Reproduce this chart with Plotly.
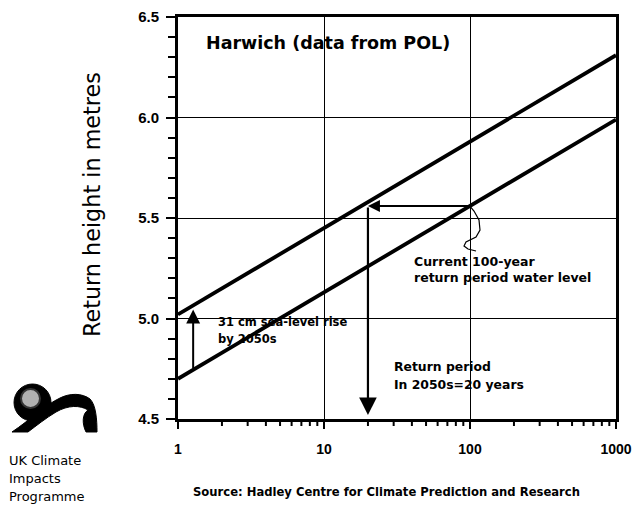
import numpy as np
import plotly.graph_objects as go

# ---------------- data ----------------
return_period = [1, 1000]                 # years (log axis)
current_level = [4.70, 5.99]              # present-day return height (m)
level_2050s = [5.02, 6.31]                # 2050s return height (m), +31 cm
y_ticks = [4.5, 5.0, 5.5, 6.0, 6.5]
y_ticklabels = ["4.5", "5.0", "5.5", "6.0", "6.5"]
x_ticks = [1, 10, 100, 1000]
x_ticklabels = ["1", "10", "100", "1000"]
x_minor_ticks = [2, 3, 4, 5, 6, 7, 8, 9, 20, 30, 40, 50, 60, 70, 80, 90,
                 200, 300, 400, 500, 600, 700, 800, 900]
current_100yr_period = 100
return_period_2050s = 20
sea_rise_x = 1.27

# page has an 8px body margin; target coordinates are page pixels
OFF = 8
W, H = 641 - OFF, 506 - OFF
PL, PR, PT, PB = 178, 616, 17, 419          # plot box in page pixels
L, T = PL - OFF, PT - OFF
PW, PH = PR - PL, PB - PT
R = W - L - PW
B = H - T - PH
Y0, Y1 = 4.5, 6.5
XR = [0, 3]                                 # log10 range of x axis


def px(x):
    return (x - PL) / PW


def py(y):
    return (PB - y) / PH


def xpaper(v):
    """data value on the log x axis -> paper fraction"""
    return (np.log10(v) - XR[0]) / (XR[1] - XR[0])


ARIAL = "Liberation Sans, Arial, sans-serif"
DEJA = "DejaVu Sans, sans-serif"

fig = go.Figure()
for ys in (current_level, level_2050s):
    fig.add_trace(go.Scatter(x=return_period, y=ys, mode="lines",
                             line=dict(color="black", width=3.8),
                             showlegend=False, hoverinfo="skip"))

lx = np.log10(return_period)
level100 = float(np.interp(np.log10(current_100yr_period), lx, current_level))
low_at_rise = float(np.interp(np.log10(sea_rise_x), lx, current_level))
up_at_rise = float(np.interp(np.log10(sea_rise_x), lx, level_2050s))

ann = []
ann.append(dict(x=np.log10(return_period_2050s), y=level100, ax=np.log10(current_100yr_period), ay=level100,
                xref="x", yref="y", axref="x", ayref="y", text="", showarrow=True,
                arrowhead=2, arrowsize=1.2, arrowwidth=2, arrowcolor="black"))
ann.append(dict(x=np.log10(return_period_2050s), y=4.52, ax=np.log10(return_period_2050s), ay=level100,
                xref="x", yref="y", axref="x", ayref="y", text="", showarrow=True,
                arrowhead=2, arrowsize=1.6, arrowwidth=2.2, arrowcolor="black"))
ann.append(dict(x=np.log10(sea_rise_x), y=up_at_rise - 0.02, ax=np.log10(sea_rise_x), ay=low_at_rise,
                xref="x", yref="y", axref="x", ayref="y", text="", showarrow=True,
                arrowhead=2, arrowsize=1.4, arrowwidth=2, arrowcolor="black"))


def label(text, x, y, size, family=DEJA, bold=True, anchor="left", angle=0):
    ann.append(dict(x=px(x), y=py(y), xref="paper", yref="paper", xanchor=anchor, yanchor="middle",
                    text=text, showarrow=False, textangle=angle,
                    font=dict(family=family, size=size, color="black",
                              weight="bold" if bold else "normal")))


label("Harwich (data from POL)", 204, 43, 17.5)
label("31 cm sea-level rise", 216, 322, 11.5)
label("by 2050s", 216, 339, 11.5)
label("Current 100-year", 412, 261, 12.5)
label("return period water level", 412, 277, 12.5)
label("Return period", 392, 366, 12.4)
label("In 2050s=20 years", 392, 384, 12.4)
label("Return height in metres", 92, 205, 22.3, bold=False, anchor="center", angle=-90)
label("Source: Hadley Centre for Climate Prediction and Research", 386, 492, 11.6, anchor="center")
label("UK Climate", 7, 460, 13, bold=False)
label("Impacts", 7, 478, 13, bold=False)
label("Programme", 7, 496, 13, bold=False)


def pt(a, b):
    return f"{px(a):.4f},{py(b):.4f}"


shapes = []
# x-axis tick marks (major + minor) just below the axis line, at log-scaled positions
for v in x_ticks + x_minor_ticks:
    xp = float(xpaper(v))
    shapes.append(dict(type="line", xref="paper", yref="paper",
                       x0=xp, x1=xp, y0=py(PB + 1), y1=py(PB + 7), layer="above",
                       line=dict(color="black", width=2)))
# leader squiggle
lead = [(469, 205), (474, 211), (479, 220), (480, 230), (476, 237),
        (466, 242), (464, 246), (468, 249), (476, 251)]
shapes.append(dict(type="path", xref="paper", yref="paper",
                   path="M " + " L ".join(pt(a, b) for a, b in lead),
                   line=dict(color="black", width=1.2)))
# logo globe
shapes.append(dict(type="circle", xref="paper", yref="paper",
                   x0=px(14), x1=px(51), y0=py(384), y1=py(421),
                   fillcolor="black", line=dict(color="black", width=1)))
shapes.append(dict(type="circle", xref="paper", yref="paper",
                   x0=px(21), x1=px(40), y0=py(389), y1=py(408),
                   fillcolor="#b0b0b0", line=dict(color="#333", width=2)))
# logo wave
wave = (f"M {pt(12,432)} C {pt(30,420)} {pt(45,405)} {pt(60,398)} "
        f"C {pt(70,393)} {pt(82,393)} {pt(90,399)} "
        f"C {pt(96,405)} {pt(97,420)} {pt(97,432)} L {pt(86,432)} "
        f"C {pt(82,424)} {pt(82,414)} {pt(88,410)} "
        f"C {pt(80,405)} {pt(68,405)} {pt(56,412)} "
        f"C {pt(46,418)} {pt(36,426)} {pt(28,432)} Z")
shapes.append(dict(type="path", xref="paper", yref="paper", path=wave,
                   fillcolor="black", line=dict(color="black", width=1)))

fig.update_layout(
    width=W, height=H,
    margin=dict(l=L, r=R, t=T, b=B, pad=0),
    paper_bgcolor="white", plot_bgcolor="white",
    showlegend=False,
    annotations=ann, shapes=shapes,
    xaxis=dict(type="log", range=XR, tickvals=x_ticks, ticktext=x_ticklabels,
               automargin=False, ticklabeloverflow="allow",
               showline=True, linewidth=3, linecolor="black", mirror=True,
               showgrid=True, gridcolor="black", gridwidth=1,
               ticks="outside", ticklen=7, tickwidth=2, tickcolor="black",
               ticklabelstandoff=8,
               tickfont=dict(family=ARIAL, size=14, color="black", weight="bold"),
               zeroline=False),
    yaxis=dict(range=[Y0, Y1], tickvals=y_ticks, ticktext=y_ticklabels,
               automargin=False, ticklabeloverflow="allow",
               showline=True, linewidth=3, linecolor="black", mirror=True,
               showgrid=True, gridcolor="black", gridwidth=1,
               ticks="outside", ticklen=9, tickwidth=2, tickcolor="black",
               minor=dict(dtick=0.1, ticks="outside", ticklen=7, tickwidth=2, tickcolor="black", showgrid=False),
               ticklabelstandoff=4,
               tickfont=dict(family=ARIAL, size=15, color="black", weight="bold"),
               zeroline=False),
)

fig.write_html("out.html")
